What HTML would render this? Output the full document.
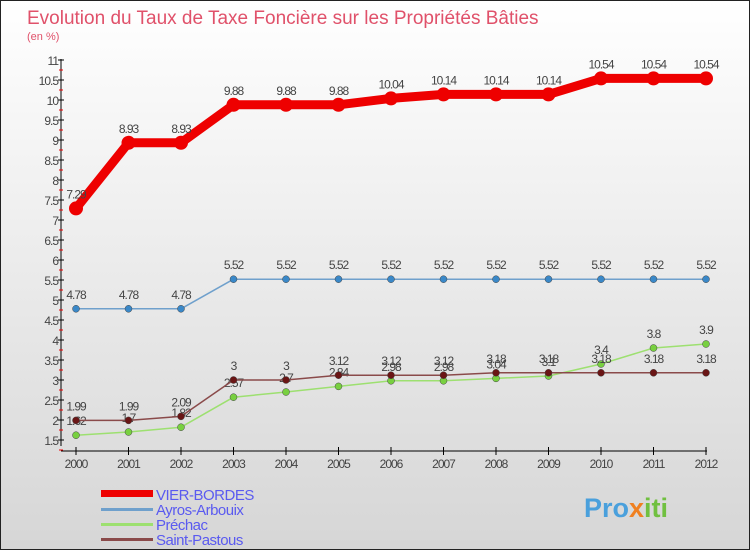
<!DOCTYPE html>
<html><head><meta charset="utf-8"><style>
body{margin:0;width:750px;height:550px;overflow:hidden;font-family:"Liberation Sans",sans-serif}
#wrap{position:relative;width:748px;height:548px;border:1px solid #222;background:linear-gradient(#fff,#d6d6d6)}
svg{position:absolute;left:0;top:0}
</style></head><body>
<div id="wrap">
<svg id="c" width="750" height="550">
<text x="26" y="23" font-size="19" fill="#e0516a">Evolution du Taux de Taxe Foncière sur les Propriétés Bâties</text>
<text x="26" y="39" font-size="11" fill="#e0516a">(en %)</text>
<g id="axes"></g><g id="series"></g><g id="legend"></g>
<text x="583" y="516" font-size="27" font-weight="bold" fill="#4aa0dc">Pro<tspan fill="#f08020">x</tspan><tspan fill="#70c040">iti</tspan></text>
</svg></div>
<script>
const years=[2000,2001,2002,2003,2004,2005,2006,2007,2008,2009,2010,2011,2012];
const vierBordes=[7.29,8.93,8.93,9.88,9.88,9.88,10.04,10.14,10.14,10.14,10.54,10.54,10.54];
const ayros=[4.78,4.78,4.78,5.52,5.52,5.52,5.52,5.52,5.52,5.52,5.52,5.52,5.52];
const prechac=[1.62,1.7,1.82,2.57,2.7,2.84,2.98,2.98,3.04,3.1,3.4,3.8,3.9];
const pastous=[1.99,1.99,2.09,3,3,3.12,3.12,3.12,3.18,3.18,3.18,3.18,3.18];
const yTicks=[1.5,2,2.5,3,3.5,4,4.5,5,5.5,6,6.5,7,7.5,8,8.5,9,9.5,10,10.5,11];
const names=["VIER-BORDES","Ayros-Arbouix","Préchac","Saint-Pastous"];
const NS="http://www.w3.org/2000/svg";
const xs=i=>75+i*52.5, ys=v=>439-(v-1.5)*40.0;
function mk(p,t,a){const e=document.createElementNS(NS,t);for(const k in a)e.setAttribute(k,a[k]);p.appendChild(e);return e;}
const ax=document.getElementById('axes');
let l=mk(ax,'line',{x1:60,y1:58,x2:60,y2:445,stroke:'#000'});


l=mk(ax,'line',{x1:60,y1:450,x2:706,y2:450,stroke:'#000'});


yTicks.forEach(v=>{const y=ys(v);
 mk(ax,'line',{x1:57,y1:y,x2:63,y2:y,stroke:'#000'});
 mk(ax,'line',{x1:58,y1:y+10,x2:62,y2:y+10,stroke:'#e00'});
 const t=mk(ax,'text',{x:57,y:y+5,'font-size':12,'text-anchor':'end',fill:'#444','letter-spacing':'-1'});t.textContent=v;
 
 });
years.forEach((yr,i)=>{const x=xs(i);
 mk(ax,'line',{x1:x,y1:446,x2:x,y2:454,stroke:'#000'});
 const t=mk(ax,'text',{x:x,y:467,'font-size':12,'text-anchor':'middle',fill:'#444','letter-spacing':'-1'});t.textContent=yr;
 
 });
const sg=document.getElementById('series');
const defs=[[vierBordes,'#e00','#e00',9,7,'series-vier-bordes'],[ayros,'#6fa0cc','#3a88c8',1.5,3.5,'series-ayros-arbouix'],[prechac,'#9de070','#78d040',1.5,3.5,'series-prechac'],[pastous,'#8a4a4a','#6a1515',1.5,3.5,'series-saint-pastous']];
defs.forEach(([d,lc,pc,w,r,n])=>{const g=mk(sg,'g',{});
 
 
 mk(g,'polyline',{points:d.map((v,i)=>xs(i)+','+ys(v)).join(' '),fill:'none',stroke:lc,'stroke-width':w,'stroke-linejoin':'round'});
 d.forEach((v,i)=>{const c=mk(g,'circle',{cx:xs(i),cy:ys(v),r:r,fill:pc,stroke:w>2?'none':'#444','stroke-width':0.5});
  
  
  const t=mk(g,'text',{x:xs(i),y:ys(v)-10,'font-size':12,'text-anchor':'middle',fill:'#444','letter-spacing':'-1'});t.textContent=v;
  
  });});
const lg=document.getElementById('legend');
defs.forEach((s,k)=>{const y=493+k*15;
 const e=mk(lg,'rect',{x:100,y:y-(k?1:4),width:52,height:k?3:7,fill:s[1]});
 
 
 const t=mk(lg,'text',{x:155,y:y+6,'font-size':15,fill:'#5a5af0','letter-spacing':'-0.5'});t.textContent=names[k];
 
 });
</script></body></html>
